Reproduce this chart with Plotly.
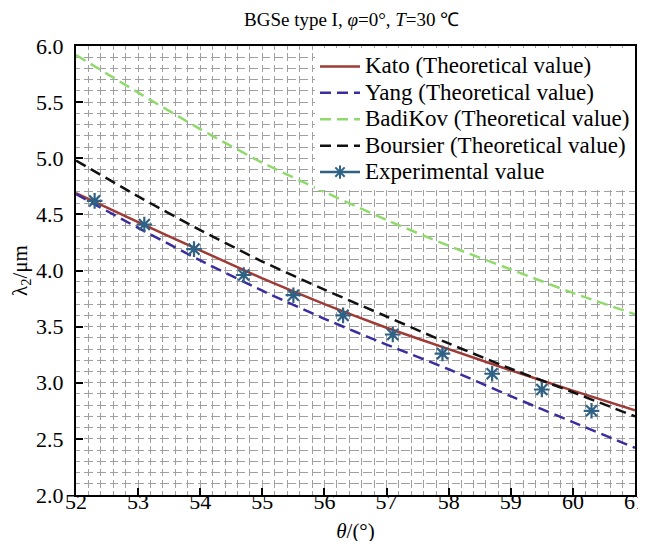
import plotly.graph_objects as go

theta = [52, 53, 54, 55, 56, 57, 58, 59, 60, 61]
kato = [4.69, 4.43, 4.18, 3.93, 3.70, 3.49, 3.30, 3.11, 2.93, 2.755]
yang = [4.68, 4.38, 4.09, 3.82, 3.57, 3.34, 3.12, 2.88, 2.65, 2.42]
badikov = [5.92, 5.585, 5.26, 4.96, 4.70, 4.45, 4.22, 4.01, 3.80, 3.61]
boursier = [4.98, 4.66, 4.36, 4.08, 3.83, 3.59, 3.35, 3.125, 2.915, 2.70]

exp_theta = [52.3, 53.1, 53.9, 54.7, 55.5, 56.3, 57.1, 57.9, 58.7, 59.5, 60.3]
exp_lambda = [4.62, 4.41, 4.19, 3.96, 3.78, 3.60, 3.43, 3.26, 3.08, 2.94, 2.75]

x_ticks = [52, 53, 54, 55, 56, 57, 58, 59, 60, 61]
y_ticks = [2.0, 2.5, 3.0, 3.5, 4.0, 4.5, 5.0, 5.5, 6.0]

series_names = ["Kato (Theoretical value)", "Yang (Theoretical value)",
                "BadiKov (Theoretical value)", "Boursier (Theoretical value)",
                "Experimental value"]

FONT = "Liberation Serif"
C_KATO = "#9E3B36"
C_YANG = "#3A2E9E"
C_BADI = "#90DA6C"
C_BOUR = "#111111"
C_EXP = "#2F6285"


def lg(name):
    return f'<span style="font-size:23px">{name}</span>'


fig = go.Figure()
fig.add_trace(go.Scatter(x=theta, y=kato, mode="lines", name=lg(series_names[0]),
                         line=dict(color=C_KATO, width=2.5, shape="spline", smoothing=0.5)))
fig.add_trace(go.Scatter(x=theta, y=yang, mode="lines", name=lg(series_names[1]),
                         line=dict(color=C_YANG, width=2.5, dash="11px,6px", shape="spline", smoothing=0.5)))
fig.add_trace(go.Scatter(x=theta, y=badikov, mode="lines", name=lg(series_names[2]),
                         line=dict(color=C_BADI, width=2.5, dash="11px,6px", shape="spline", smoothing=0.5)))
fig.add_trace(go.Scatter(x=theta, y=boursier, mode="lines", name=lg(series_names[3]),
                         line=dict(color=C_BOUR, width=2.5, dash="11px,6px", shape="spline", smoothing=0.5)))
# legend entry for experimental (line + star)
fig.add_trace(go.Scatter(x=[None], y=[None], mode="lines+markers", name=lg(series_names[4]),
                         line=dict(color=C_EXP, width=2.5),
                         marker=dict(symbol="asterisk-open", size=11, line=dict(color=C_EXP, width=2))))
fig.add_trace(go.Scatter(x=exp_theta, y=exp_lambda, mode="markers", showlegend=False,
                         marker=dict(symbol="asterisk-open", size=13, color=C_EXP,
                                     line=dict(color=C_EXP, width=2.2))))

px_x = 570 / 9 * 0.2   # minor cell width in px
px_y = 449 / 4 * 0.1   # minor cell height in px
ax, ay = 4.3, 3.8
dash_h = f"{ax}px,{px_x - 2*ax:.3f}px,{ax}px,0px"
dash_v = f"{ay}px,{px_y - 2*ay:.3f}px,{ay}px,0px"
GRID = "#A0A0A0"

fig.update_layout(
    width=646, height=541,
    margin=dict(l=68, r=8, t=38, b=54),
    paper_bgcolor="white", plot_bgcolor="white",
    font=dict(family=FONT, color="black", size=21),
    title=dict(text="BGSe type I, <i>φ</i>=0°, <i>T</i>=30 ℃", x=0.532, xanchor="center",
               y=0.979, yanchor="middle", yref="container", font=dict(size=19, family=FONT)),
    legend=dict(x=1, xanchor="right", y=0.995, yanchor="top", bgcolor="white", borderwidth=0,
                font=dict(size=18, family=FONT), tracegroupgap=0, itemwidth=40),
    showlegend=True,
)
fig.update_xaxes(
    range=[52, 61], tickvals=x_ticks, ticktext=[str(v) for v in x_ticks],
    ticks="inside", ticklen=7, tickwidth=2, tickcolor="black",
    tickfont=dict(size=22, family=FONT), ticklabelstandoff=-14, ticklabeloverflow="allow",
    showline=True, linecolor="black", linewidth=2, mirror=True,
    showgrid=True, gridcolor=GRID, gridwidth=1.4, griddash=dash_v,
    minor=dict(dtick=0.2, showgrid=True, gridcolor=GRID, gridwidth=1.4, griddash=dash_v, ticks=""),
    zeroline=False,
    title=dict(text="<i>θ</i>/(°)", font=dict(size=21, family=FONT), standoff=10),
)
fig.update_yaxes(
    range=[2, 6], tickvals=y_ticks, ticktext=[f"{v:.1f}" for v in y_ticks],
    ticks="inside", ticklen=7, tickwidth=2, tickcolor="black",
    tickfont=dict(size=22, family=FONT), ticklabelstandoff=6,
    showline=True, linecolor="black", linewidth=2, mirror=True,
    showgrid=True, gridcolor=GRID, gridwidth=1.4, griddash=dash_h,
    minor=dict(dtick=0.1, showgrid=True, gridcolor=GRID, gridwidth=1.4, griddash=dash_h, ticks=""),
    zeroline=False,
    title=dict(text="λ<sub>2</sub>/μm", font=dict(size=21, family=FONT), standoff=3),
)

fig.write_html("out.html")
